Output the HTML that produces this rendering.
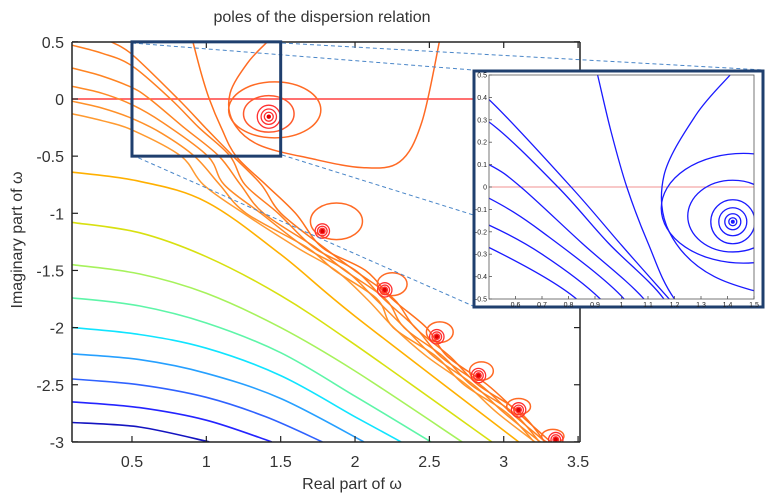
<!DOCTYPE html>
<html><head><meta charset="utf-8"><style>
html,body{margin:0;padding:0;background:#fff;width:772px;height:498px;overflow:hidden;}
svg{display:block;font-family:"Liberation Sans",Arial,sans-serif;}
</style></head><body>
<svg id="chart" width="772" height="498" viewBox="0 0 772 498">
<defs>
<clipPath id="mainclip"><rect x="72" y="42" width="508" height="400"/></clipPath>
<clipPath id="insetclip"><rect x="489" y="75" width="265" height="224"/></clipPath>
</defs>
<text x="322" y="22" font-size="16" fill="#333" text-anchor="middle">poles of the dispersion relation</text>
<g id="main" clip-path="url(#mainclip)"></g>
<g id="axes"></g>
<g id="zoom"></g>
<g id="inset"></g>
<text x="352" y="489" font-size="16" fill="#333" text-anchor="middle">Real part of ω</text>
<text transform="translate(22,240) rotate(-90)" font-size="16" fill="#333" text-anchor="middle">Imaginary part of ω</text>
</svg>
<script>
// ---- data ----
const xTicks = [0.5,1,1.5,2,2.5,3,3.5];
const yTicks = [0.5,0,-0.5,-1,-1.5,-2,-2.5,-3];
const insetXTicks = [0.6,0.7,0.8,0.9,1,1.1,1.2,1.3,1.4,1.5];
const insetYTicks = [0.5,0.4,0.3,0.2,0.1,0,-0.1,-0.2,-0.3,-0.4,-0.5];
// lower colored contour lines: [x,y] points
const lowColors = ["#1414c0","#2424ff","#2f62ff","#26a0ff","#10e4ff","#5ef5a8","#a6f25c","#d8e010","#ffb000"];
const lowLines = [
 [[0.1,-2.83],[0.55,-2.87],[1.02,-3.0]],
 [[0.1,-2.65],[0.55,-2.70],[1.0,-2.81],[1.44,-3.0]],
 [[0.1,-2.45],[0.55,-2.5],[1.0,-2.61],[1.4,-2.78],[1.78,-3.0]],
 [[0.1,-2.23],[0.55,-2.28],[1.0,-2.40],[1.5,-2.62],[2.06,-3.0]],
 [[0.1,-2.0],[0.55,-2.06],[1.0,-2.18],[1.5,-2.42],[2.0,-2.78],[2.31,-3.0]],
 [[0.1,-1.74],[0.55,-1.81],[1.0,-1.96],[1.5,-2.22],[2.0,-2.6],[2.51,-3.0]],
 [[0.1,-1.45],[0.55,-1.53],[1.0,-1.70],[1.5,-2.0],[2.0,-2.38],[2.72,-3.0]],
 [[0.1,-1.08],[0.55,-1.17],[1.0,-1.38],[1.5,-1.72],[2.0,-2.15],[2.92,-3.0]],
 [[0.1,-0.64],[0.55,-0.72],[1.0,-0.9],[1.5,-1.36],[2.0,-1.9],[3.1,-3.0]]
];
// upper orange contour lines (left/top part)
const upperLines = [
 [[0.1,-0.13],[0.3,-0.19],[0.5,-0.27],[0.83,-0.5]],
 [[0.1,-0.02],[0.3,-0.08],[0.5,-0.17],[0.7,-0.3],[0.92,-0.5]],
 [[0.1,0.11],[0.3,0.05],[0.5,-0.05],[0.7,-0.2],[1.01,-0.5]],
 [[0.1,0.27],[0.3,0.2],[0.5,0.10],[0.62,0],[0.85,-0.25],[1.085,-0.5]],
 [[0.1,0.47],[0.3,0.4],[0.5,0.29],[0.76,0],[0.95,-0.25],[1.16,-0.5]],
 [[0.36,0.5],[0.5,0.39],[0.81,0],[1.0,-0.26],[1.18,-0.5]],
 [[0.91,0.5],[0.96,0.25],[1.02,0],[1.1,-0.25],[1.2,-0.5]]
];
// band continuation below -0.5
const bandY = [-0.75,-1.0,-1.3,-1.5,-1.75,-2.0,-2.25,-2.5,-2.75,-3.05];
const bandLeft = [1.0,1.23,1.63,1.85,2.1,2.24,2.5,2.73,2.98,3.24];
const bandRight = [1.42,1.58,1.8,2.05,2.27,2.46,2.64,2.87,3.12,3.34];
// big loop near first pole
const bigLoop = [[1.41,0.5],[1.28,0.32],[1.16,0.05],[1.18,-0.2],[1.35,-0.4],[1.7,-0.52],[2.05,-0.6],[2.3,-0.55],[2.45,-0.2],[2.57,0.52]];
// poles
const poleX = [1.42,1.78,2.2,2.55,2.83,3.1,3.35];
const poleY = [-0.155,-1.155,-1.67,-2.08,-2.42,-2.72,-2.98];
// outer loops around poles
const loopCX = [1.46,1.875,2.25,2.57,2.85,3.1,3.33];
const loopCY = [-0.095,-1.07,-1.62,-2.04,-2.38,-2.69,-2.95];
const loopRX = [0.31,0.175,0.1,0.09,0.08,0.08,0.075];
const loopRY = [0.245,0.16,0.1,0.09,0.08,0.07,0.06];

// ---- scales ----
const X = x => 72.5 + (x - 0.1) * 148.7;
const Y = y => 99 - y * 114.3;
const IX = x => 489 + (x - 0.5) * 265;
const IY = y => 75 + (0.5 - y) * 224;
const NS = "http://www.w3.org/2000/svg";
function mk(tag, attrs, parent){const e=document.createElementNS(NS,tag);for(const k in attrs)e.setAttribute(k,attrs[k]);parent.appendChild(e);return e;}
function smooth(pts, fx, fy){
 const p = pts.map(q=>[fx(q[0]),fy(q[1])]);
 let d = "M"+p[0][0].toFixed(1)+","+p[0][1].toFixed(1);
 for(let i=0;i<p.length-1;i++){
  const p0=p[Math.max(0,i-1)],p1=p[i],p2=p[i+1],p3=p[Math.min(p.length-1,i+2)];
  const c1=[p1[0]+(p2[0]-p0[0])/6,p1[1]+(p2[1]-p0[1])/6];
  const c2=[p2[0]-(p3[0]-p1[0])/6,p2[1]-(p3[1]-p1[1])/6];
  d+=" C"+c1[0].toFixed(1)+","+c1[1].toFixed(1)+" "+c2[0].toFixed(1)+","+c2[1].toFixed(1)+" "+p2[0].toFixed(1)+","+p2[1].toFixed(1);
 }
 return d;
}
const main = document.getElementById("main");
const axes = document.getElementById("axes");
const zoomG = document.getElementById("zoom");
const inset = document.getElementById("inset");

let zl = mk("line",{x1:72,y1:Y(0),x2:580,y2:Y(0),stroke:"#ff4040","stroke-width":1.5},main);



lowLines.forEach((pts,i)=>{
 const e = mk("path",{d:smooth(pts,X,Y),fill:"none",stroke:lowColors[i],"stroke-width":1.6},main);
 
 
});
function fullLine(i){
 const pts = upperLines[i].slice();
 const f = i/(upperLines.length-1);
 const wig = (i%2===0)?0.02:-0.02;
 bandY.forEach((y,k)=>{pts.push([bandLeft[k]+(bandRight[k]-bandLeft[k])*f + (k%2?wig:-wig), y]);});
 return pts;
}
const orangeCols = ["#ff9a30","#ff9028","#ff8a26","#ff8422","#ff7e20","#ff781e","#ff701c"];
upperLines.forEach((_,i)=>{
 const e = mk("path",{d:smooth(fullLine(i),X,Y),fill:"none",stroke:orangeCols[i],"stroke-width":1.5},main);
 
 
});
let bl = mk("path",{d:smooth(bigLoop,X,Y),fill:"none",stroke:"#ff6a24","stroke-width":1.5},main);


poleX.forEach((px,i)=>{
 const lp = mk("ellipse",{cx:X(loopCX[i]),cy:Y(loopCY[i]),rx:loopRX[i]*148.7,ry:loopRY[i]*114.3,fill:"none",stroke:"#ff6a24","stroke-width":1.5},main);
 
 
 const s = i===0?1.6:1;
 if(i===0){
  const e2 = mk("ellipse",{cx:X(1.42),cy:Y(-0.13),rx:0.17*148.7,ry:0.16*114.3,fill:"none",stroke:"#ff5a2c","stroke-width":1.5},main);
  
  
 }
 [9,6,3.5].forEach(r=>{
  const c = mk("circle",{cx:X(px),cy:Y(poleY[i]),r:r*s*0.8,fill:"none",stroke:"#ff3030","stroke-width":1.3},main);
  
  
 });
 const d = mk("circle",{cx:X(px),cy:Y(poleY[i]),r:2.2,fill:"#e00000"},main);
 
 
});

mk("line",{x1:72,y1:42,x2:72,y2:442,stroke:"#222","stroke-width":1.5},axes);
mk("line",{x1:72,y1:442,x2:580,y2:442,stroke:"#222","stroke-width":1.5},axes);
mk("line",{x1:580,y1:42,x2:580,y2:442,stroke:"#222","stroke-width":1.5},axes);
mk("line",{x1:72,y1:42,x2:580,y2:42,stroke:"#222","stroke-width":1.5},axes);
xTicks.forEach(v=>{
 mk("line",{x1:X(v),y1:442,x2:X(v),y2:436,stroke:"#222","stroke-width":1.2},axes);
 mk("line",{x1:X(v),y1:42,x2:X(v),y2:48,stroke:"#222","stroke-width":1.2},axes);
 const t = mk("text",{x:X(v),y:467,"font-size":16,fill:"#333","text-anchor":"middle"},axes);
 t.textContent = String(v);
 
 
});
yTicks.forEach(v=>{
 mk("line",{x1:72,y1:Y(v),x2:78,y2:Y(v),stroke:"#222","stroke-width":1.2},axes);
 mk("line",{x1:580,y1:Y(v),x2:574,y2:Y(v),stroke:"#222","stroke-width":1.2},axes);
 const t = mk("text",{x:64,y:Y(v)+6,"font-size":16,fill:"#333","text-anchor":"end"},axes);
 t.textContent = String(v);
 
 
});

[[132,43,473,70],[282,43,764,70],[132,155,473,306],[282,155,764,306]].forEach(l=>{
 const e = mk("line",{x1:l[0],y1:l[1],x2:l[2],y2:l[3],stroke:"#4a86c8","stroke-width":1,"stroke-dasharray":"4,3"},zoomG);
 
 
});
let zb = mk("rect",{x:X(0.5),y:Y(0.5),width:X(1.5)-X(0.5),height:Y(-0.5)-Y(0.5),fill:"none",stroke:"#1f3f6e","stroke-width":3},zoomG);



let ib = mk("rect",{x:474,y:71,width:289,height:236,fill:"#fff",stroke:"#1f3f6e","stroke-width":3},inset);


const ic = mk("g",{"clip-path":"url(#insetclip)"},inset);
mk("line",{x1:IX(0.5),y1:IY(0),x2:IX(1.5),y2:IY(0),stroke:"#f09090","stroke-width":1},ic);
upperLines.forEach((_,i)=>{
 const e = mk("path",{d:smooth(fullLine(i),IX,IY),fill:"none",stroke:"#1a1aff","stroke-width":1.3},ic);
 
 
});
let ibl = mk("path",{d:smooth(bigLoop,IX,IY),fill:"none",stroke:"#1a1aff","stroke-width":1.3},ic);


mk("ellipse",{cx:IX(loopCX[0]),cy:IY(loopCY[0]),rx:loopRX[0]*265,ry:loopRY[0]*224,fill:"none",stroke:"#1a1aff","stroke-width":1.3},ic);
mk("ellipse",{cx:IX(1.42),cy:IY(-0.13),rx:0.17*265,ry:0.16*224,fill:"none",stroke:"#1a1aff","stroke-width":1.3},ic);
[22,14,8,4].forEach(r=>{mk("circle",{cx:IX(poleX[0]),cy:IY(poleY[0]),r:r,fill:"none",stroke:"#1a1aff","stroke-width":1.3},ic);});
mk("circle",{cx:IX(poleX[0]),cy:IY(poleY[0]),r:2,fill:"#1a1aff"},ic);
mk("rect",{x:489,y:75,width:265,height:224,fill:"none",stroke:"#555","stroke-width":0.8},inset);
insetXTicks.forEach(v=>{
 mk("line",{x1:IX(v),y1:299,x2:IX(v),y2:296,stroke:"#555","stroke-width":0.8},inset);
 const t = mk("text",{x:IX(v),y:307,"font-size":7,fill:"#222","text-anchor":"middle"},inset);
 t.textContent = String(v);
 
 
});
insetYTicks.forEach(v=>{
 mk("line",{x1:489,y1:IY(v),x2:492,y2:IY(v),stroke:"#555","stroke-width":0.8},inset);
 const t = mk("text",{x:487,y:IY(v)+2.5,"font-size":7,fill:"#222","text-anchor":"end"},inset);
 t.textContent = String(v);
 
 
});
</script>
</body></html>
